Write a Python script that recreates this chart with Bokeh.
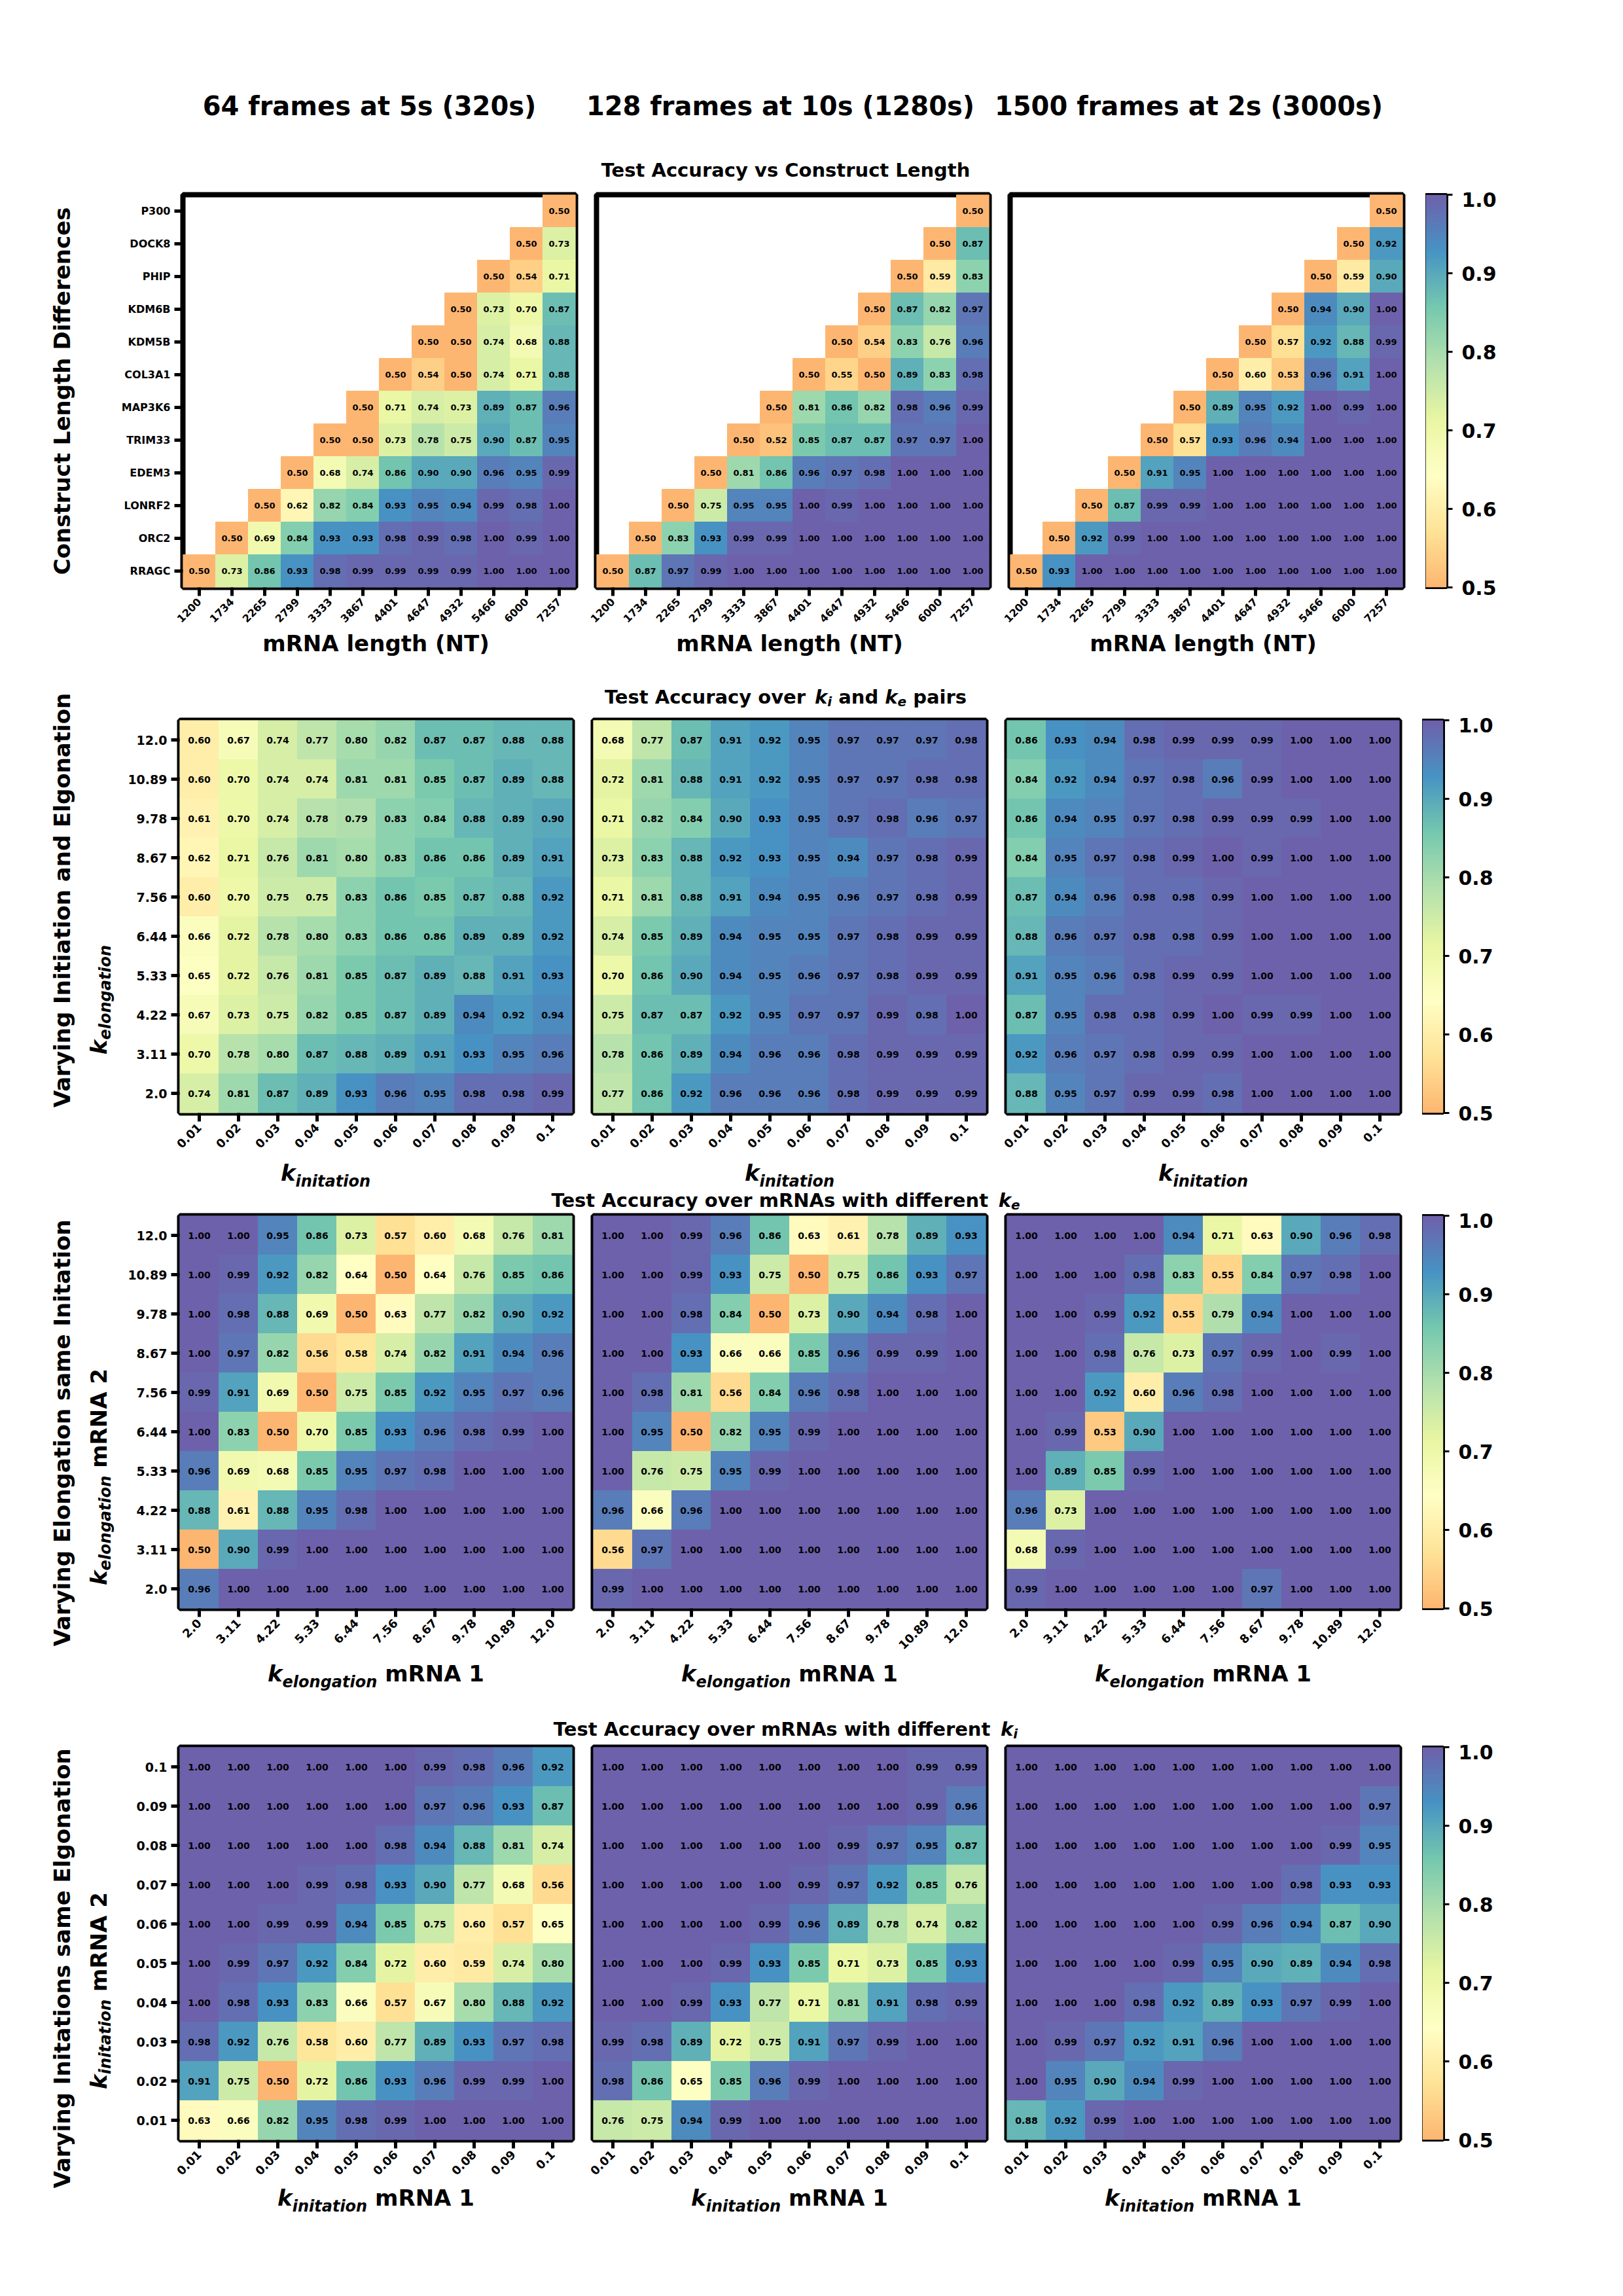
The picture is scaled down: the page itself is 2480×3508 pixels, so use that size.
import math
import numpy as np
from bokeh.plotting import figure
from bokeh.models import (LinearColorMapper, FixedTicker, PrintfTickFormatter,
                          ColumnDataSource)
from bokeh.layouts import row, column
from bokeh.transform import transform
from bokeh.core.properties import value
from bokeh.embed import file_html
from bokeh.resources import INLINE

# ---------------------------------------------------------------- data
column_titles = ["64 frames at 5s (320s)", "128 frames at 10s (1280s)",
                 "1500 frames at 2s (3000s)"]

genes = ["P300", "DOCK8", "PHIP", "KDM6B", "KDM5B", "COL3A1", "MAP3K6",
         "TRIM33", "EDEM3", "LONRF2", "ORC2", "RRAGC"]          # top -> bottom
lengths_nt = ["1200", "1734", "2265", "2799", "3333", "3867", "4401",
              "4647", "4932", "5466", "6000", "7257"]

construct_320 = [
    [0.50],
    [0.50, 0.73],
    [0.50, 0.54, 0.71],
    [0.50, 0.73, 0.70, 0.87],
    [0.50, 0.50, 0.74, 0.68, 0.88],
    [0.50, 0.54, 0.50, 0.74, 0.71, 0.88],
    [0.50, 0.71, 0.74, 0.73, 0.89, 0.87, 0.96],
    [0.50, 0.50, 0.73, 0.78, 0.75, 0.90, 0.87, 0.95],
    [0.50, 0.68, 0.74, 0.86, 0.90, 0.90, 0.96, 0.95, 0.99],
    [0.50, 0.62, 0.82, 0.84, 0.93, 0.95, 0.94, 0.99, 0.98, 1.00],
    [0.50, 0.69, 0.84, 0.93, 0.93, 0.98, 0.99, 0.98, 1.00, 0.99, 1.00],
    [0.50, 0.73, 0.86, 0.93, 0.98, 0.99, 0.99, 0.99, 0.99, 1.00, 1.00, 1.00],
]
construct_1280 = [
    [0.50],
    [0.50, 0.87],
    [0.50, 0.59, 0.83],
    [0.50, 0.87, 0.82, 0.97],
    [0.50, 0.54, 0.83, 0.76, 0.96],
    [0.50, 0.55, 0.50, 0.89, 0.83, 0.98],
    [0.50, 0.81, 0.86, 0.82, 0.98, 0.96, 0.99],
    [0.50, 0.52, 0.85, 0.87, 0.87, 0.97, 0.97, 1.00],
    [0.50, 0.81, 0.86, 0.96, 0.97, 0.98, 1.00, 1.00, 1.00],
    [0.50, 0.75, 0.95, 0.95, 1.00, 0.99, 1.00, 1.00, 1.00, 1.00],
    [0.50, 0.83, 0.93, 0.99, 0.99, 1.00, 1.00, 1.00, 1.00, 1.00, 1.00],
    [0.50, 0.87, 0.97, 0.99, 1.00, 1.00, 1.00, 1.00, 1.00, 1.00, 1.00, 1.00],
]
construct_3000 = [
    [0.50],
    [0.50, 0.92],
    [0.50, 0.59, 0.90],
    [0.50, 0.94, 0.90, 1.00],
    [0.50, 0.57, 0.92, 0.88, 0.99],
    [0.50, 0.60, 0.53, 0.96, 0.91, 1.00],
    [0.50, 0.89, 0.95, 0.92, 1.00, 0.99, 1.00],
    [0.50, 0.57, 0.93, 0.96, 0.94, 1.00, 1.00, 1.00],
    [0.50, 0.91, 0.95, 1.00, 1.00, 1.00, 1.00, 1.00, 1.00],
    [0.50, 0.87, 0.99, 0.99, 1.00, 1.00, 1.00, 1.00, 1.00, 1.00],
    [0.50, 0.92, 0.99, 1.00, 1.00, 1.00, 1.00, 1.00, 1.00, 1.00, 1.00],
    [0.50, 0.93, 1.00, 1.00, 1.00, 1.00, 1.00, 1.00, 1.00, 1.00, 1.00, 1.00],
]

ki_labels = ["0.01", "0.02", "0.03", "0.04", "0.05", "0.06", "0.07", "0.08", "0.09", "0.1"]
ki_labels_desc = ["0.1", "0.09", "0.08", "0.07", "0.06", "0.05", "0.04", "0.03", "0.02", "0.01"]
ke_labels = ["2.0", "3.11", "4.22", "5.33", "6.44", "7.56", "8.67", "9.78", "10.89", "12.0"]
ke_labels_desc = ["12.0", "10.89", "9.78", "8.67", "7.56", "6.44", "5.33", "4.22", "3.11", "2.0"]

pairs_320 = [
    [0.60, 0.67, 0.74, 0.77, 0.80, 0.82, 0.87, 0.87, 0.88, 0.88],
    [0.60, 0.70, 0.74, 0.74, 0.81, 0.81, 0.85, 0.87, 0.89, 0.88],
    [0.61, 0.70, 0.74, 0.78, 0.79, 0.83, 0.84, 0.88, 0.89, 0.90],
    [0.62, 0.71, 0.76, 0.81, 0.80, 0.83, 0.86, 0.86, 0.89, 0.91],
    [0.60, 0.70, 0.75, 0.75, 0.83, 0.86, 0.85, 0.87, 0.88, 0.92],
    [0.66, 0.72, 0.78, 0.80, 0.83, 0.86, 0.86, 0.89, 0.89, 0.92],
    [0.65, 0.72, 0.76, 0.81, 0.85, 0.87, 0.89, 0.88, 0.91, 0.93],
    [0.67, 0.73, 0.75, 0.82, 0.85, 0.87, 0.89, 0.94, 0.92, 0.94],
    [0.70, 0.78, 0.80, 0.87, 0.88, 0.89, 0.91, 0.93, 0.95, 0.96],
    [0.74, 0.81, 0.87, 0.89, 0.93, 0.96, 0.95, 0.98, 0.98, 0.99],
]
pairs_1280 = [
    [0.68, 0.77, 0.87, 0.91, 0.92, 0.95, 0.97, 0.97, 0.97, 0.98],
    [0.72, 0.81, 0.88, 0.91, 0.92, 0.95, 0.97, 0.97, 0.98, 0.98],
    [0.71, 0.82, 0.84, 0.90, 0.93, 0.95, 0.97, 0.98, 0.96, 0.97],
    [0.73, 0.83, 0.88, 0.92, 0.93, 0.95, 0.94, 0.97, 0.98, 0.99],
    [0.71, 0.81, 0.88, 0.91, 0.94, 0.95, 0.96, 0.97, 0.98, 0.99],
    [0.74, 0.85, 0.89, 0.94, 0.95, 0.95, 0.97, 0.98, 0.99, 0.99],
    [0.70, 0.86, 0.90, 0.94, 0.95, 0.96, 0.97, 0.98, 0.99, 0.99],
    [0.75, 0.87, 0.87, 0.92, 0.95, 0.97, 0.97, 0.99, 0.98, 1.00],
    [0.78, 0.86, 0.89, 0.94, 0.96, 0.96, 0.98, 0.99, 0.99, 0.99],
    [0.77, 0.86, 0.92, 0.96, 0.96, 0.96, 0.98, 0.99, 0.99, 0.99],
]
pairs_3000 = [
    [0.86, 0.93, 0.94, 0.98, 0.99, 0.99, 0.99, 1.00, 1.00, 1.00],
    [0.84, 0.92, 0.94, 0.97, 0.98, 0.96, 0.99, 1.00, 1.00, 1.00],
    [0.86, 0.94, 0.95, 0.97, 0.98, 0.99, 0.99, 0.99, 1.00, 1.00],
    [0.84, 0.95, 0.97, 0.98, 0.99, 1.00, 0.99, 1.00, 1.00, 1.00],
    [0.87, 0.94, 0.96, 0.98, 0.98, 0.99, 1.00, 1.00, 1.00, 1.00],
    [0.88, 0.96, 0.97, 0.98, 0.98, 0.99, 1.00, 1.00, 1.00, 1.00],
    [0.91, 0.95, 0.96, 0.98, 0.99, 0.99, 1.00, 1.00, 1.00, 1.00],
    [0.87, 0.95, 0.98, 0.98, 0.99, 1.00, 0.99, 0.99, 1.00, 1.00],
    [0.92, 0.96, 0.97, 0.98, 0.99, 0.99, 1.00, 1.00, 1.00, 1.00],
    [0.88, 0.95, 0.97, 0.99, 0.99, 0.98, 1.00, 1.00, 1.00, 1.00],
]

ke_diff_320 = [
    [1.00, 1.00, 0.95, 0.86, 0.73, 0.57, 0.60, 0.68, 0.76, 0.81],
    [1.00, 0.99, 0.92, 0.82, 0.64, 0.50, 0.64, 0.76, 0.85, 0.86],
    [1.00, 0.98, 0.88, 0.69, 0.50, 0.63, 0.77, 0.82, 0.90, 0.92],
    [1.00, 0.97, 0.82, 0.56, 0.58, 0.74, 0.82, 0.91, 0.94, 0.96],
    [0.99, 0.91, 0.69, 0.50, 0.75, 0.85, 0.92, 0.95, 0.97, 0.96],
    [1.00, 0.83, 0.50, 0.70, 0.85, 0.93, 0.96, 0.98, 0.99, 1.00],
    [0.96, 0.69, 0.68, 0.85, 0.95, 0.97, 0.98, 1.00, 1.00, 1.00],
    [0.88, 0.61, 0.88, 0.95, 0.98, 1.00, 1.00, 1.00, 1.00, 1.00],
    [0.50, 0.90, 0.99, 1.00, 1.00, 1.00, 1.00, 1.00, 1.00, 1.00],
    [0.96, 1.00, 1.00, 1.00, 1.00, 1.00, 1.00, 1.00, 1.00, 1.00],
]
ke_diff_1280 = [
    [1.00, 1.00, 0.99, 0.96, 0.86, 0.63, 0.61, 0.78, 0.89, 0.93],
    [1.00, 1.00, 0.99, 0.93, 0.75, 0.50, 0.75, 0.86, 0.93, 0.97],
    [1.00, 1.00, 0.98, 0.84, 0.50, 0.73, 0.90, 0.94, 0.98, 1.00],
    [1.00, 1.00, 0.93, 0.66, 0.66, 0.85, 0.96, 0.99, 0.99, 1.00],
    [1.00, 0.98, 0.81, 0.56, 0.84, 0.96, 0.98, 1.00, 1.00, 1.00],
    [1.00, 0.95, 0.50, 0.82, 0.95, 0.99, 1.00, 1.00, 1.00, 1.00],
    [1.00, 0.76, 0.75, 0.95, 0.99, 1.00, 1.00, 1.00, 1.00, 1.00],
    [0.96, 0.66, 0.96, 1.00, 1.00, 1.00, 1.00, 1.00, 1.00, 1.00],
    [0.56, 0.97, 1.00, 1.00, 1.00, 1.00, 1.00, 1.00, 1.00, 1.00],
    [0.99, 1.00, 1.00, 1.00, 1.00, 1.00, 1.00, 1.00, 1.00, 1.00],
]
ke_diff_3000 = [
    [1.00, 1.00, 1.00, 1.00, 0.94, 0.71, 0.63, 0.90, 0.96, 0.98],
    [1.00, 1.00, 1.00, 0.98, 0.83, 0.55, 0.84, 0.97, 0.98, 1.00],
    [1.00, 1.00, 0.99, 0.92, 0.55, 0.79, 0.94, 1.00, 1.00, 1.00],
    [1.00, 1.00, 0.98, 0.76, 0.73, 0.97, 0.99, 1.00, 0.99, 1.00],
    [1.00, 1.00, 0.92, 0.60, 0.96, 0.98, 1.00, 1.00, 1.00, 1.00],
    [1.00, 0.99, 0.53, 0.90, 1.00, 1.00, 1.00, 1.00, 1.00, 1.00],
    [1.00, 0.89, 0.85, 0.99, 1.00, 1.00, 1.00, 1.00, 1.00, 1.00],
    [0.96, 0.73, 1.00, 1.00, 1.00, 1.00, 1.00, 1.00, 1.00, 1.00],
    [0.68, 0.99, 1.00, 1.00, 1.00, 1.00, 1.00, 1.00, 1.00, 1.00],
    [0.99, 1.00, 1.00, 1.00, 1.00, 1.00, 0.97, 1.00, 1.00, 1.00],
]

ki_diff_320 = [
    [1.00, 1.00, 1.00, 1.00, 1.00, 1.00, 0.99, 0.98, 0.96, 0.92],
    [1.00, 1.00, 1.00, 1.00, 1.00, 1.00, 0.97, 0.96, 0.93, 0.87],
    [1.00, 1.00, 1.00, 1.00, 1.00, 0.98, 0.94, 0.88, 0.81, 0.74],
    [1.00, 1.00, 1.00, 0.99, 0.98, 0.93, 0.90, 0.77, 0.68, 0.56],
    [1.00, 1.00, 0.99, 0.99, 0.94, 0.85, 0.75, 0.60, 0.57, 0.65],
    [1.00, 0.99, 0.97, 0.92, 0.84, 0.72, 0.60, 0.59, 0.74, 0.80],
    [1.00, 0.98, 0.93, 0.83, 0.66, 0.57, 0.67, 0.80, 0.88, 0.92],
    [0.98, 0.92, 0.76, 0.58, 0.60, 0.77, 0.89, 0.93, 0.97, 0.98],
    [0.91, 0.75, 0.50, 0.72, 0.86, 0.93, 0.96, 0.99, 0.99, 1.00],
    [0.63, 0.66, 0.82, 0.95, 0.98, 0.99, 1.00, 1.00, 1.00, 1.00],
]
ki_diff_1280 = [
    [1.00, 1.00, 1.00, 1.00, 1.00, 1.00, 1.00, 1.00, 0.99, 0.99],
    [1.00, 1.00, 1.00, 1.00, 1.00, 1.00, 1.00, 1.00, 0.99, 0.96],
    [1.00, 1.00, 1.00, 1.00, 1.00, 1.00, 0.99, 0.97, 0.95, 0.87],
    [1.00, 1.00, 1.00, 1.00, 1.00, 0.99, 0.97, 0.92, 0.85, 0.76],
    [1.00, 1.00, 1.00, 1.00, 0.99, 0.96, 0.89, 0.78, 0.74, 0.82],
    [1.00, 1.00, 1.00, 0.99, 0.93, 0.85, 0.71, 0.73, 0.85, 0.93],
    [1.00, 1.00, 0.99, 0.93, 0.77, 0.71, 0.81, 0.91, 0.98, 0.99],
    [0.99, 0.98, 0.89, 0.72, 0.75, 0.91, 0.97, 0.99, 1.00, 1.00],
    [0.98, 0.86, 0.65, 0.85, 0.96, 0.99, 1.00, 1.00, 1.00, 1.00],
    [0.76, 0.75, 0.94, 0.99, 1.00, 1.00, 1.00, 1.00, 1.00, 1.00],
]
ki_diff_3000 = [
    [1.00, 1.00, 1.00, 1.00, 1.00, 1.00, 1.00, 1.00, 1.00, 1.00],
    [1.00, 1.00, 1.00, 1.00, 1.00, 1.00, 1.00, 1.00, 1.00, 0.97],
    [1.00, 1.00, 1.00, 1.00, 1.00, 1.00, 1.00, 1.00, 0.99, 0.95],
    [1.00, 1.00, 1.00, 1.00, 1.00, 1.00, 1.00, 0.98, 0.93, 0.93],
    [1.00, 1.00, 1.00, 1.00, 1.00, 0.99, 0.96, 0.94, 0.87, 0.90],
    [1.00, 1.00, 1.00, 1.00, 0.99, 0.95, 0.90, 0.89, 0.94, 0.98],
    [1.00, 1.00, 1.00, 0.98, 0.92, 0.89, 0.93, 0.97, 0.99, 1.00],
    [1.00, 0.99, 0.97, 0.92, 0.91, 0.96, 1.00, 1.00, 1.00, 1.00],
    [1.00, 0.95, 0.90, 0.94, 0.99, 1.00, 1.00, 1.00, 1.00, 1.00],
    [0.88, 0.92, 0.99, 1.00, 1.00, 1.00, 1.00, 1.00, 1.00, 1.00],
]

colorbar_ticks = [0.5, 0.6, 0.7, 0.8, 0.9, 1.0]

# ---------------------------------------------------------------- style
FONT = "DejaVu Sans"
spectral = ['#9e0142', '#d53e4f', '#f46d43', '#fdae61', '#fee08b', '#ffffbf',
            '#e6f598', '#abdda4', '#66c2a5', '#3288bd', '#5e4fa2']


def make_palette(n=256, start=0.3, alpha=0.9):
    rgb = np.array([[int(h[i:i + 2], 16) for i in (1, 3, 5)] for h in spectral], float)
    pos = np.linspace(0, 1, len(spectral))
    out = []
    for s in np.linspace(start, 1.0, n):
        c = [np.interp(s, pos, rgb[:, k]) for k in range(3)]
        c = [alpha * ck + (1 - alpha) * 255 for ck in c]
        out.append("#%02x%02x%02x" % tuple(int(round(v)) for v in c))
    return out


mapper = LinearColorMapper(palette=make_palette(), low=0.5, high=1.0)

W_EM = {' ': .348, '(': .457, ')': .457, '.': .380, '-': .415,
        'A': .774, 'C': .734, 'D': .830, 'E': .683, 'I': .372, 'L': .637,
        'M': .995, 'N': .837, 'R': .770, 'T': .682, 'V': .774,
        'a': .675, 'b': .716, 'c': .593, 'd': .716, 'e': .678, 'f': .435,
        'g': .716, 'h': .712, 'i': .343, 'k': .665, 'l': .343, 'm': 1.042,
        'n': .712, 'o': .687, 'p': .716, 'r': .493, 's': .595, 't': .478,
        'u': .712, 'v': .652, 'w': .924, 'y': .652}


def text_w(t, size):
    return sum(W_EM.get(ch, 0.696) for ch in t) * size


PAGE_W, PAGE_H = 2480, 3508
LEFT_W = 182                       # text column at the far left
RIGHT_W = PAGE_W - LEFT_W


def tfig(w, h):
    """A plain text canvas; coordinates are pixels from its top-left corner."""
    f = figure(width=w, height=h, x_range=(0, w), y_range=(h, 0),
               x_axis_type=None, y_axis_type=None, min_border=0,
               output_backend="svg", toolbar_location=None)
    f.outline_line_color = None
    f.grid.visible = False
    f.background_fill_color = "white"
    f.border_fill_color = "white"
    return f


def put(f, x, y, text, size, italic=False, angle=0.0, align="center",
        baseline="middle"):
    f.text(x=[x], y=[y], text=[text], angle=angle, text_align=align,
           text_baseline=baseline, text_font=value(FONT),
           text_font_style="bold italic" if italic else "bold",
           text_font_size=f"{size}px", text_color="black")


def composite(f, cx, cy, pieces, main, vertical=False, drop=0.40):
    """pieces: (text, italic, is_sub); subscripts are smaller and lowered."""
    sub = round(main * 0.7)
    sizes = [sub if s else main for _, _, s in pieces]
    widths = [text_w(t, sz) for (t, _, _), sz in zip(pieces, sizes)]
    pos = -sum(widths) / 2
    for (t, it, s), sz, w in zip(pieces, sizes, widths):
        lead = text_w(t[:len(t) - len(t.lstrip())], sz)
        d = drop * main if s else 0.0
        a = pos + lead
        if vertical:
            put(f, cx + d, cy - a, t.strip(), sz, it, math.pi / 2, "left", "middle")
        else:
            put(f, cx + a, cy + d, t.strip(), sz, it, 0.0, "left", "middle")
        pos += w


# layout (page pixels)
FW = FH = 600
B_TOP, B_BOT = 4, 62
LEFT = [274 - LEFT_W, 16, 16]
RIGHT = [16, 16, 35]
ROW_H = B_TOP + FH + B_BOT
FRAME_TOP = [297, 1100, 1856, 2659]
ROW_TOP = [t - B_TOP for t in FRAME_TOP]
FRAME_CX = [274 + FW / 2, 906 + FW / 2, 1538 + FW / 2]


def heat(xf, yf_top, rows, c, tick_x, tick_y, cell_font):
    xs, ys, vs, ts = [], [], [], []
    n = len(xf)
    for i, vals in enumerate(rows):
        s = n - len(vals)
        for j, v in enumerate(vals):
            xs.append(xf[s + j]); ys.append(yf_top[i]); vs.append(v)
            ts.append(f"{v:.2f}")
    src = ColumnDataSource(dict(x=xs, y=ys, v=vs, t=ts))
    p = figure(x_range=list(xf), y_range=list(reversed(yf_top)),
               frame_width=FW, frame_height=FH,
               min_border_left=LEFT[c], min_border_right=RIGHT[c],
               min_border_top=B_TOP, min_border_bottom=B_BOT,
               output_backend="svg", toolbar_location=None)
    p.rect(x="x", y="y", width=1, height=1, source=src,
           fill_color=transform("v", mapper), line_color=transform("v", mapper),
           line_width=1)
    p.text(x="x", y="y", text="t", source=src, text_align="center",
           text_baseline="middle", text_font=value(FONT), text_font_style="bold",
           text_font_size=f"{cell_font}px", text_color="black")
    p.grid.visible = False
    p.outline_line_color = "black"
    p.outline_line_width = 8
    p.background_fill_color = "white"
    p.border_fill_color = "white"
    for ax, sz in ((p.xaxis, tick_x), (p.yaxis, tick_y)):
        ax.axis_line_color = None
        ax.major_tick_in = 0
        ax.major_tick_out = 13
        ax.major_tick_line_width = 5
        ax.major_tick_line_color = "black"
        ax.minor_tick_line_color = None
        ax.major_label_text_font = FONT
        ax.major_label_text_font_style = "bold"
        ax.major_label_text_font_size = f"{sz}px"
        ax.major_label_text_color = "black"
        ax.major_label_standoff = 6
    p.xaxis.major_label_orientation = math.pi / 4
    if c > 0:
        p.yaxis.visible = False
    return p


def cbar():
    p = figure(x_range=(0, 1), y_range=(0.5, 1.0), frame_width=32, frame_height=FH,
               min_border_left=0, min_border_right=PAGE_W - 2173 - 32,
               min_border_top=B_TOP, min_border_bottom=B_BOT,
               x_axis_type=None, y_axis_location="right",
               output_backend="svg", toolbar_location=None)
    grad = np.linspace(0.5, 1.0, 256).reshape(-1, 1)
    p.image(image=[grad], x=0, y=0.5, dw=1, dh=0.5, color_mapper=mapper)
    p.grid.visible = False
    p.outline_line_color = "black"
    p.outline_line_width = 5
    p.border_fill_color = "white"
    ax = p.yaxis[0]
    ax.ticker = FixedTicker(ticks=colorbar_ticks)
    ax.formatter = PrintfTickFormatter(format="%.1f")
    ax.axis_line_color = None
    ax.major_tick_in = 0
    ax.major_tick_out = 9
    ax.major_tick_line_width = 3
    ax.major_tick_line_color = "black"
    ax.minor_tick_line_color = None
    ax.major_label_text_font = FONT
    ax.major_label_text_font_style = "bold"
    ax.major_label_text_font_size = "30px"
    ax.major_label_text_color = "black"
    ax.major_label_standoff = 14
    return p


def heat_row(xf, yf_top, panels, tick_x, tick_y, cell_font):
    figs = [heat(xf, yf_top, d, c, tick_x, tick_y, cell_font)
            for c, d in enumerate(panels)]
    return row(*figs, cbar())


# ---- tall text column at the far left (page coordinates)
left = tfig(LEFT_W, PAGE_H)
put(left, 94, 597, "Construct Length Differences", 34, angle=math.pi / 2)
put(left, 94, 1375, "Varying Initiation and Elgonation", 34, angle=math.pi / 2)
composite(left, 150, 1527, [("k", True, False), ("elongation", True, True)],
          34, vertical=True, drop=0.30)
put(left, 94, 2183, "Varying Elongation  same Initation", 34, angle=math.pi / 2)
composite(left, 150, 2256, [("k", True, False), ("elongation", True, True),
                            (" mRNA 2", False, False)], 34, vertical=True, drop=0.30)
put(left, 94, 3001, "Varying Initations  same Elgonation", 34, angle=math.pi / 2)
composite(left, 150, 3041, [("k", True, False), ("initation", True, True),
                            (" mRNA 2", False, False)], 34, vertical=True, drop=0.30)

X0 = LEFT_W        # page x of the right-hand column
items = []

# ---- header band
band = tfig(RIGHT_W, ROW_TOP[0])
for t, cx in zip(column_titles, [564, 1192, 1816]):
    put(band, cx - X0, 161, t, 40)
put(band, 1200 - X0, 259, "Test Accuracy vs Construct Length", 29)
items.append(band)

# ---- row 1
items.append(heat_row(lengths_nt, genes,
                      [construct_320, construct_1280, construct_3000], 16, 16, 13))

# ---- band 1
y0 = ROW_TOP[0] + ROW_H
band = tfig(RIGHT_W, ROW_TOP[1] - y0)
for cx in FRAME_CX:
    put(band, cx - X0, 982 - y0, "mRNA length (NT)", 34)
composite(band, 1200 - X0, 1064 - y0,
          [("Test Accuracy over ", False, False), ("k", True, False), ("i", True, True),
           (" and ", False, False), ("k", True, False), ("e", True, True),
           (" pairs", False, False)], 29, drop=0.25)
items.append(band)

# ---- row 2
items.append(heat_row(ki_labels, ke_labels_desc,
                      [pairs_320, pairs_1280, pairs_3000], 18, 19, 14))

# ---- band 2
y0 = ROW_TOP[1] + ROW_H
band = tfig(RIGHT_W, ROW_TOP[2] - y0)
for c, cx in enumerate(FRAME_CX):
    composite(band, (497 if c == 0 else cx) - X0, 1790 - y0,
              [("k", True, False), ("initation", True, True)], 34)
composite(band, 1200 - X0, 1832 - y0,
          [("Test Accuracy over mRNAs with different ", False, False),
           ("k", True, False), ("e", True, True)], 29, drop=0.25)
items.append(band)

# ---- row 3
items.append(heat_row(ke_labels, ke_labels_desc,
                      [ke_diff_320, ke_diff_1280, ke_diff_3000], 18, 19, 14))

# ---- band 3
y0 = ROW_TOP[2] + ROW_H
band = tfig(RIGHT_W, ROW_TOP[3] - y0)
for cx in FRAME_CX:
    composite(band, cx - X0, 2546 - y0, [("k", True, False), ("elongation", True, True),
                                        (" mRNA 1", False, False)], 34)
composite(band, 1200 - X0, 2631 - y0,
          [("Test Accuracy over mRNAs with different ", False, False),
           ("k", True, False), ("i", True, True)], 29, drop=0.25)
items.append(band)

# ---- row 4
items.append(heat_row(ki_labels, ki_labels_desc,
                      [ki_diff_320, ki_diff_1280, ki_diff_3000], 18, 19, 14))

# ---- band 4
y0 = ROW_TOP[3] + ROW_H
band = tfig(RIGHT_W, PAGE_H - y0)
for cx in FRAME_CX:
    composite(band, cx - X0, 3346 - y0, [("k", True, False), ("initation", True, True),
                                        (" mRNA 1", False, False)], 34)
items.append(band)

p = row(left, column(*items))
open("out.html", "w").write(file_html(p, INLINE))
